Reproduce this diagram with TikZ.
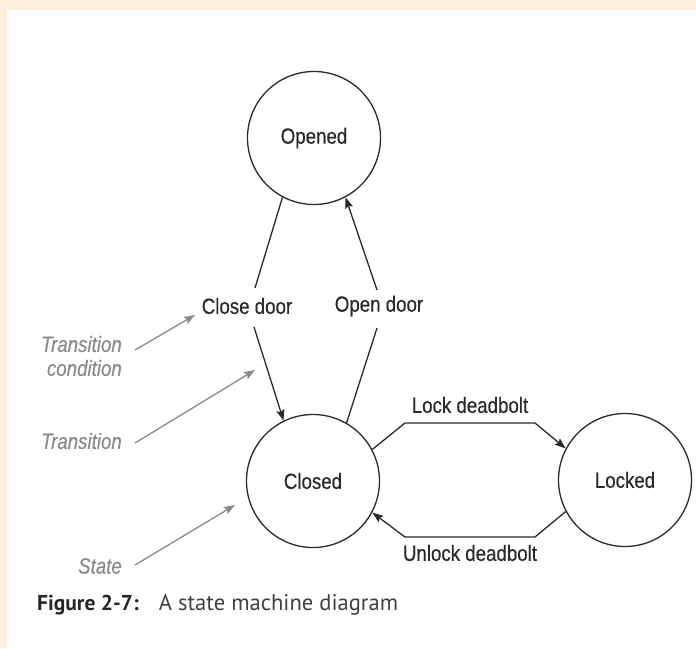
\documentclass[tikz,border=0pt]{standalone}
\usepackage{fontspec}
\setmainfont{Liberation Sans}
\newfontfamily\condfont[FakeStretch=0.85,FakeBold=0.4]{Liberation Sans}
\newfontfamily\condnotefont[FakeStretch=0.85,FakeBold=0.2]{Liberation Sans}
\newfontfamily\capfont{PT Sans}
\usetikzlibrary{arrows.meta,calc}
\definecolor{peach}{HTML}{FEEEDC}
\definecolor{ink}{HTML}{2A2A2A}
\definecolor{note}{HTML}{8A8A8A}
\tikzset{
  state/.style={circle,draw=ink,line width=1.3pt,minimum size=133pt,inner sep=0pt,
    font=\condfont\fontsize{22}{24}\selectfont,text=ink},
  cond/.style={inner sep=0pt,font=\condfont\fontsize{22}{24}\selectfont,text=ink},
  trans/.style={draw=ink,line width=1.3pt},
  arr/.style={trans,-{Stealth[length=11pt,width=8pt,inset=2pt]}},
  notetext/.style={inner sep=0pt,align=right,text=note,
    font=\condnotefont\itshape\fontsize{22}{24}\selectfont},
  notearr/.style={draw=note,line width=1.3pt,-{Stealth[length=11pt,width=8pt,inset=2pt]}}
}
\begin{document}
\begin{tikzpicture}[x=1pt,y=-1pt]
  % page frame
  \useasboundingbox (0,0) rectangle (696,648);
  \fill[peach] (0,0) rectangle (696,648);
  \fill[white] (7,10) rectangle (696,648);

  % states
  \node[state] (opened) at (314,138) {Opened};
  \node[state] (closed) at (313,481) {Closed};
  \node[state] (locked) at (625,480) {Locked};

  % transition conditions
  \node[cond] (cd) at (247,306) {Close door};
  \node[cond] (od) at (379,306) {Open door};
  \node[cond] (ld) at (470,405) {Lock deadbolt};
  \node[cond] (ud) at (470,553) {Unlock deadbolt};

  % door transitions
  \draw[trans] (opened.242) -- ($(cd.center)+(8,-18)$);
  \draw[arr] ($(cd.center)+(7,21)$) -- (closed.116);
  \draw[trans] (closed.60) -- ($(od.center)+(-2,22)$);
  \draw[arr] ($(od.center)+(-2,-16)$) -- (opened.298);

  % deadbolt transitions
  \draw[arr] (closed.28) -- (405,423) -- (535,423) -- (locked.152);
  \draw[arr] (locked.208) -- (535,537) -- (405,537) -- (closed.-28);

  % callouts
  \node[notetext,anchor=east] (tc) at (122,356) {Transition\\condition};
  \node[notetext,anchor=east] (tr) at (122,441) {Transition};
  \node[notetext,anchor=east] (st) at (122,566) {State};
  \coordinate (tcTip) at (195,315);
  \coordinate (trTip) at (255,370);
  \coordinate (stTip) at (235,505);
  \draw[notearr] ($(tc.east)+(13,-6)$) -- (tcTip);
  \draw[notearr] ($(tr.east)+(13,2)$) -- (trTip);
  \draw[notearr] ($(st.east)+(13,-1)$) -- (stTip);

  % caption
  \node[anchor=west,inner sep=0pt,font=\capfont\fontsize{21.5}{24}\selectfont,text=black!75] (cap) at (37,605)
    {\textbf{\color{black!85}Figure 2-7:}\hspace{20pt}{\fontsize{22.6}{24}\selectfont A state machine diagram}};
\end{tikzpicture}
\end{document}
